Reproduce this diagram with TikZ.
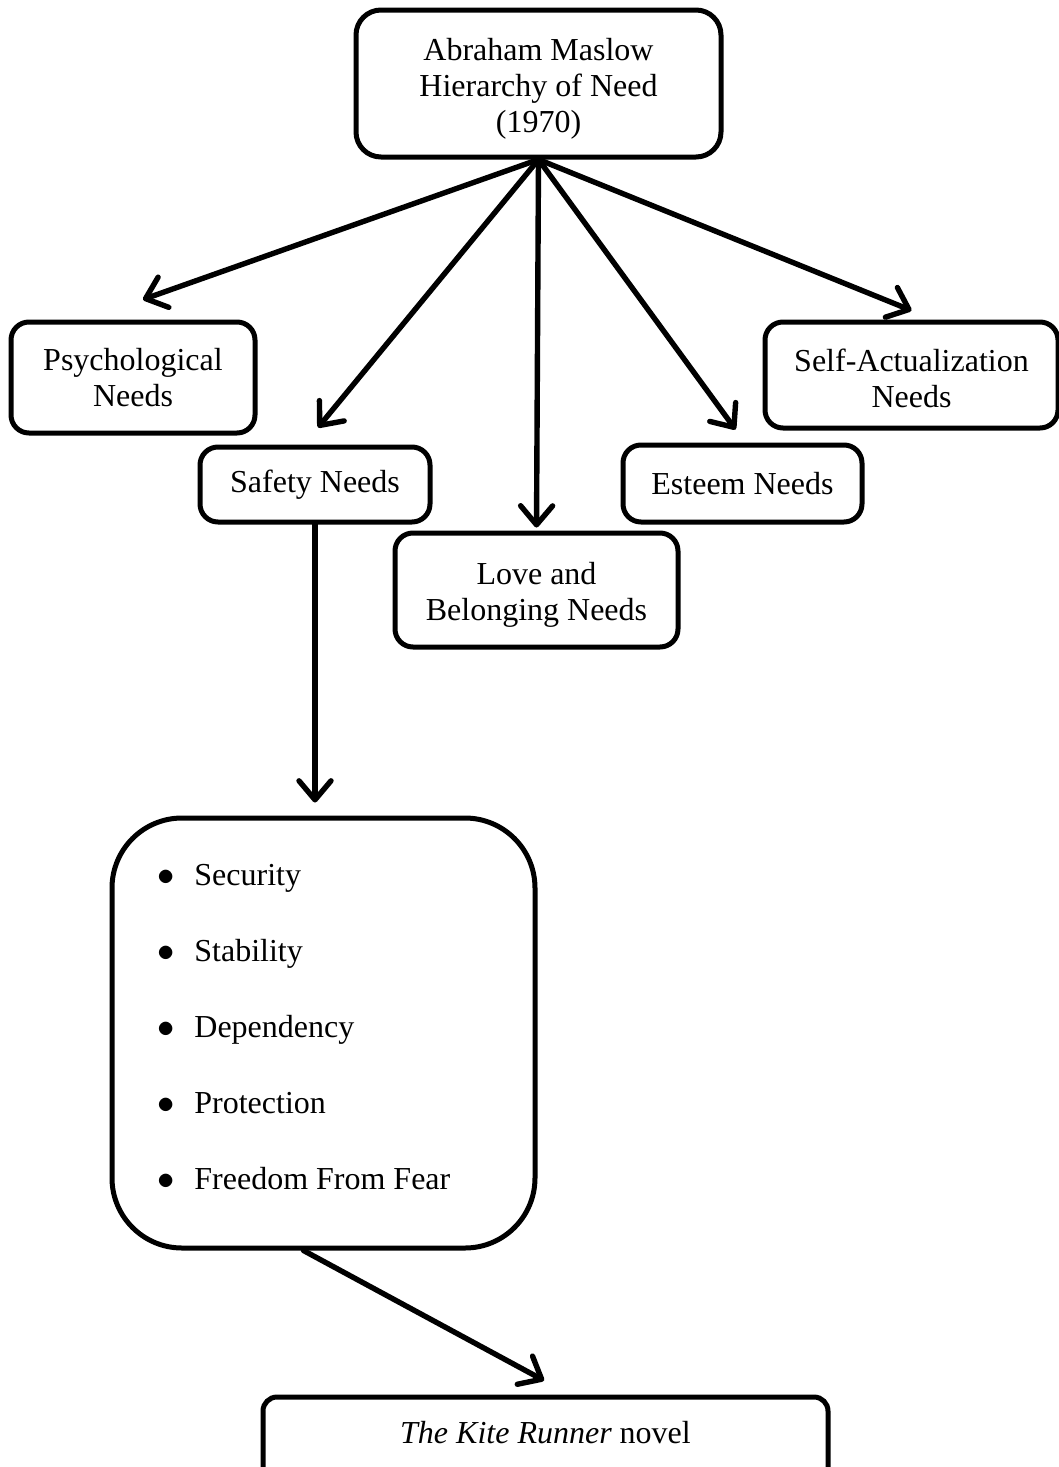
\documentclass[tikz,border=0pt]{standalone}
\usepackage{fontspec}
\setmainfont{Liberation Serif}
\usetikzlibrary{arrows.meta}
\begin{document}
\begin{tikzpicture}[x=0.5pt,y=-0.5pt,
  box/.style={draw, line width=2.5pt, rounded corners=9pt, align=center, inner sep=0pt,
    font=\fontsize{16}{18}\selectfont},
  itemtext/.style={anchor=base west, inner sep=0pt, font=\fontsize{16}{18}\selectfont},
  conn/.style={line width=2.7pt, line cap=round,
    -{Straight Barb[length=9.5pt,width=16pt,round]}}]
\useasboundingbox (0,0) rectangle (1059,1467);
\fill[white] (0,0) rectangle (1059,1467);

\node[box, rounded corners=12.5pt, minimum width=182.5pt, minimum height=73.5pt,
  text height=52pt, text depth=3.5pt] (top) at (538.5,83.5)
  {Abraham Maslow\\Hierarchy of Need\\(1970)};
\node[box, minimum width=122pt, minimum height=55.5pt] (psych) at (133,377.5) {Psychological\\Needs};
\node[box, minimum width=115pt, minimum height=37.5pt] (safety) at (315,484.5) {Safety Needs};
\node[box, minimum width=141.5pt, minimum height=57pt,
  text height=34pt, text depth=3.5pt] (love) at (536.5,590) {Love and\\Belonging Needs};
\node[box, minimum width=119.5pt, minimum height=38.5pt] (esteem) at (742.5,483.5) {Esteem Needs};
\node[box, minimum width=146.5pt, minimum height=53pt,
  text height=32pt, text depth=0pt] (self) at (911.5,375) {Self-Actualization\\Needs};

\node[box, rounded corners=35pt, minimum width=211.5pt, minimum height=215pt] (list) at (323.5,1033) {};
\node[itemtext] (i1) at (157,885) {\makebox[18.5pt][l]{$\bullet$}Security};
\node[itemtext] (i2) at (157,961) {\makebox[18.5pt][l]{$\bullet$}Stability};
\node[itemtext] (i3) at (157,1037) {\makebox[18.5pt][l]{$\bullet$}Dependency};
\node[itemtext] (i4) at (157,1113) {\makebox[18.5pt][l]{$\bullet$}Protection};
\node[itemtext] (i5) at (157,1189) {\makebox[18.5pt][l]{$\bullet$}Freedom From Fear};

\node[box, rounded corners=7pt, minimum width=282.5pt, minimum height=50pt,
  text height=11pt, text depth=15pt] (kite) at (545.5,1447) {{\itshape The Kite Runner} novel};

\draw[conn] (top.south) -- ([shift={(10,-20)}]psych.north);
\draw[conn] (top.south) -- ([shift={(3,-17)}]safety.north);
\draw[conn] (top.south) -- ([shift={(0,-3)}]love.north);
\draw[conn] (top.south) -- ([shift={(-7,-13)}]esteem.north);
\draw[conn] (top.south) -- ([shift={(0,-9)}]self.north);
\draw[conn, shorten >=6.5pt] (safety.south) -- (safety.south |- list.north);
\draw[conn] ([xshift=-10pt]list.south) -- ([shift={(-1.5,-14)}]kite.north);
\end{tikzpicture}
\end{document}
